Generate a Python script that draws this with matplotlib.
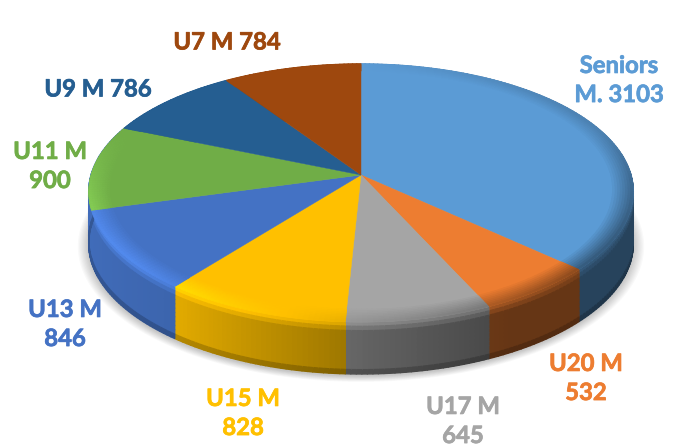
import numpy as np
import matplotlib
matplotlib.use('Agg')
import matplotlib.pyplot as plt
import matplotlib.patheffects as pe
from matplotlib.collections import PolyCollection
from matplotlib.colors import to_rgb
from matplotlib.patches import Polygon

W, H = 681, 447

# chart data
values = [3103, 532, 645, 828, 846, 900, 786, 784]
labels = ['Seniors\nM. 3103', 'U20 M\n532', 'U17 M\n645', 'U15 M\n828',
          'U13 M\n846', 'U11 M\n900', 'U9 M 786', 'U7 M 784']
colors = ['#5B9BD5', '#ED7D31', '#A5A5A5', '#FFC000',
          '#4472C4', '#70AD47', '#255E91', '#9E480E']
# the reference shows no green wall, the blue one runs up to the left edge
wall_colors = ['#5B9BD5', '#ED7D31', '#A5A5A5', '#FFC000',
               '#4472C4', '#4472C4', '#255E91', '#9E480E']
# label centres in pixels
label_x = [619, 586, 463, 243, 65, 50, 98, 227]
label_y = [80, 378, 421, 413, 324, 166, 89, 42]

# perspective of the disc (pixels)
CX, CY = 361, 175
A, B = 270, 126.5
KX, KY = 0.13, 0.1395
DEPTH = 52
BEVEL = 0.075


def rim(theta, r=1.0):
    """theta clockwise from 12 o'clock, radians; returns pixel x, y"""
    u = r * np.sin(theta)
    v = r * np.cos(theta)
    return CX + A * u / (1 + KX * v), CY - B * v / (1 + KY * v)


def shaded(base, f):
    return tuple(np.clip(np.array(base) * f, 0, 1))


def side_factor(theta):
    return np.interp(np.sin(theta), [-1, -0.6, -0.05, 0.4, 0.5, 1],
                     [0.95, 0.88, 0.62, 0.45, 0.43, 0.43])


def bevel_factor(theta):
    u = np.sin(theta)
    v = np.cos(theta)
    front = np.clip(0.35 - v, 0, 1)
    return 1 + front * (-0.4 * u - 0.1) + (1 - front) * (-0.18 * max(u, 0))


fig = plt.figure(figsize=(W / 100, H / 100), dpi=100, facecolor='white')
ax = fig.add_axes([0, 0, 1, 1])
ax.set_xlim(0, W)
ax.set_ylim(H, 0)
ax.axis('off')

total = sum(values)
edges = np.radians(np.concatenate([[0], np.cumsum(values)]) / total * 360)

# soft shadow below the disc
all_t = np.linspace(0, 2 * np.pi, 240)
sx, sy = rim(all_t)
for grow in np.linspace(1.04, 1.0, 10):
    ax.add_patch(Polygon(np.c_[CX + (sx - CX) * grow, CY + DEPTH + 2 + (sy - CY) * grow],
                         closed=True, facecolor='black', edgecolor='none', alpha=0.022, zorder=1))

# side wall, split in small quads for the gradients
layers = np.linspace(0, 1, 13)
quads, quad_cols = [], []
for i, col in enumerate(wall_colors):
    base = to_rgb(col)
    n = max(int(np.degrees(edges[i + 1] - edges[i])), 2)
    ts = np.linspace(edges[i], edges[i + 1], n + 1)
    for t0, t1 in zip(ts[:-1], ts[1:]):
        x0, y0 = rim(t0)
        x1, y1 = rim(t1)
        tm = (t0 + t1) / 2
        for a, b in zip(layers[:-1], layers[1:]):
            mid = (a + b) / 2
            top_mix = np.clip(1 - mid / 0.2, 0, 1)
            f = side_factor(tm) * (1 - top_mix) + bevel_factor(tm) * top_mix
            if mid > 0.92:
                f *= 0.8
            quads.append([(x0, y0 + a * DEPTH), (x1, y1 + a * DEPTH),
                          (x1, y1 + b * DEPTH), (x0, y0 + b * DEPTH)])
            quad_cols.append(shaded(base, f))
ax.add_collection(PolyCollection(quads, facecolors=quad_cols, edgecolors=quad_cols,
                                 linewidths=1.0, zorder=2))

# top face
for i, col in enumerate(colors):
    ts = np.linspace(edges[i], edges[i + 1], 120)
    x, y = rim(ts)
    pts = np.r_[[[CX, CY]], np.c_[x, y]]
    ax.add_patch(Polygon(pts, closed=True, facecolor=col, edgecolor=col, lw=0.3, zorder=3))

# bevel along the rim
quads, quad_cols = [], []
rings = np.linspace(1 - BEVEL, 1, 9)
for i, col in enumerate(colors):
    base = to_rgb(col)
    n = max(int(np.degrees(edges[i + 1] - edges[i])), 2)
    ts = np.linspace(edges[i], edges[i + 1], n + 1)
    for t0, t1 in zip(ts[:-1], ts[1:]):
        tm = (t0 + t1) / 2
        for j in range(len(rings) - 1):
            r0, r1 = rings[j], rings[j + 1]
            x00, y00 = rim(t0, r0)
            x10, y10 = rim(t1, r0)
            x11, y11 = rim(t1, r1)
            x01, y01 = rim(t0, r1)
            w = (j + 1) / (len(rings) - 1)
            quads.append([(x00, y00), (x10, y10), (x11, y11), (x01, y01)])
            quad_cols.append(shaded(base, 1 + (bevel_factor(tm) - 1) * w))
ax.add_collection(PolyCollection(quads, facecolors=quad_cols, edgecolors=quad_cols,
                                 linewidths=0.6, zorder=4))

# labels
for lab, col, lx, ly in zip(labels, colors, label_x, label_y):
    ax.text(lx, ly, lab, color=col, ha='center', va='center', family='Lato',
            fontsize=17.2, fontweight='bold', linespacing=1.32, zorder=6,
            path_effects=[pe.withStroke(linewidth=0.5, foreground=col)])

fig.savefig('out.png', dpi=100, facecolor='white')
plt.close(fig)
